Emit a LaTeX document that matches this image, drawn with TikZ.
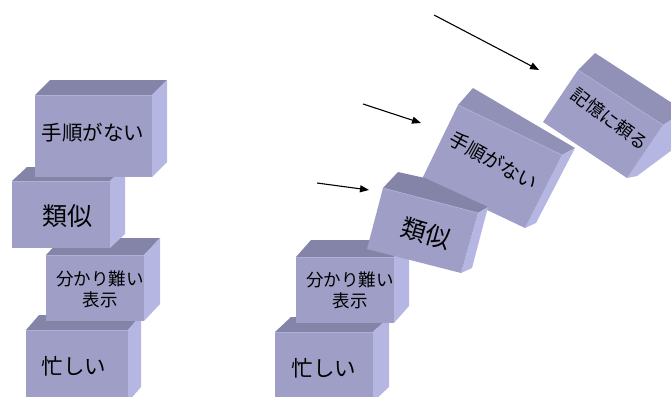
\documentclass[tikz,border=0pt]{standalone}
\usepackage{fontspec}
\setmainfont{Noto Sans CJK JP}
\usetikzlibrary{arrows.meta}
\definecolor{frontc}{RGB}{158,158,198}
\definecolor{topc}{RGB}{132,132,168}
\definecolor{sidec}{RGB}{182,182,226}
\definecolor{toplt}{RGB}{145,145,184}
\definecolor{hlc}{RGB}{176,176,214}
\newcommand\mybox[6]{%
  \fill[topc] (#1,#2) -- (#1+#5,#2-#6) -- (#3+#5,#2-#6) -- (#3,#2) -- cycle;
  \fill[sidec] (#3,#2) -- (#3+#5,#2-#6) -- (#3+#5,#4-#6) -- (#3,#4) -- cycle;
  \fill[frontc] (#1,#2) rectangle (#3,#4);
  \draw[hl] (#1,#2) -- (#3,#2);
}
\tikzset{
  hl/.style={hlc, line width=0.7pt},
  lbl/.style={inner sep=0pt, text=black},
  arr/.style={line width=1.1pt, -{Triangle[length=9pt,width=7pt]}},
}
\begin{document}
\begin{tikzpicture}[x=1pt,y=-1pt]
\useasboundingbox (0,0) rectangle (671,396);
% ---------- left stack ----------
\mybox{26}{330}{128}{402}{13}{15}
\mybox{46}{255}{144}{321}{16}{17}
\mybox{12}{181}{110}{248}{15}{14}
\mybox{35}{95}{152}{177}{15}{15}
\node[lbl, font=\fontsize{20.5}{23}\selectfont] (tA) at (93,133) {手順がない};
\node[lbl, font=\fontsize{25}{28}\selectfont] (tB) at (67,216) {類似};
\node[lbl, font=\fontsize{17.5}{21}\selectfont, align=center] (tC) at (100,289) {分かり難い\\表示};
\node[lbl, font=\fontsize{21.5}{24}\selectfont] (tD) at (74,366) {忙しい};
% ---------- right stack ----------
\mybox{275}{332}{373}{402}{16}{15}
\mybox{296}{257}{394}{323}{15}{17}
\node[lbl, font=\fontsize{21.5}{24}\selectfont] (tE) at (324,368) {忙しい};
\node[lbl, font=\fontsize{17.5}{21}\selectfont, align=center] (tF) at (350,290) {分かり難い\\表示};
% box I (記憶に頼る)
\fill[toplt] (578,70) -- (595,53) -- (672,103) -- (672,120) -- (663,125) -- cycle;
\fill[sidec] (663,125) -- (672,119) -- (672,150) -- (637,176) -- (627,178) -- cycle;
\fill[frontc] (578,70) -- (663,125) -- (627,178) -- (543,122) -- cycle;
\draw[hl] (578,70) -- (663,125);
% box H (手順がない)
\fill[toplt] (458,105) -- (473,88) -- (575,148) -- (562,155) -- cycle;
\fill[sidec] (562,155) -- (575,148) -- (536,223) -- (525,228) -- cycle;
\fill[frontc] (458,105) -- (562,155) -- (525,228) -- (422,179) -- cycle;
\draw[hl] (458,105) -- (562,155);
% box G (類似)
\fill[topc] (383,188) -- (398,172) -- (425,178) -- (488,207) -- (478,213) -- cycle;
\fill[sidec] (478,213) -- (488,207) -- (472,268) -- (461,273) -- cycle;
\fill[frontc] (383,188) -- (478,213) -- (461,273) -- (367,249) -- cycle;
\draw[hl] (383,188) -- (478,213);
\node[lbl, font=\fontsize{25}{28}\selectfont, rotate=-16] (tG) at (426,233) {類似};
\node[lbl, font=\fontsize{19.5}{22}\selectfont, rotate=-29] (tH) at (494,161) {手順がない};
\node[lbl, font=\fontsize{18}{21}\selectfont, rotate=-37] (tI) at (610,119) {記憶に頼る};
% ---------- arrows ----------
\coordinate (a1s) at (434,15);
\coordinate (a1e) at (539,70);
\coordinate (a2s) at (363,104);
\coordinate (a2e) at (421,123);
\coordinate (a3s) at (317,183);
\coordinate (a3e) at (369,190);
\draw[arr] (a1s) -- (a1e);
\draw[arr] (a2s) -- (a2e);
\draw[arr] (a3s) -- (a3e);
\end{tikzpicture}
\end{document}
